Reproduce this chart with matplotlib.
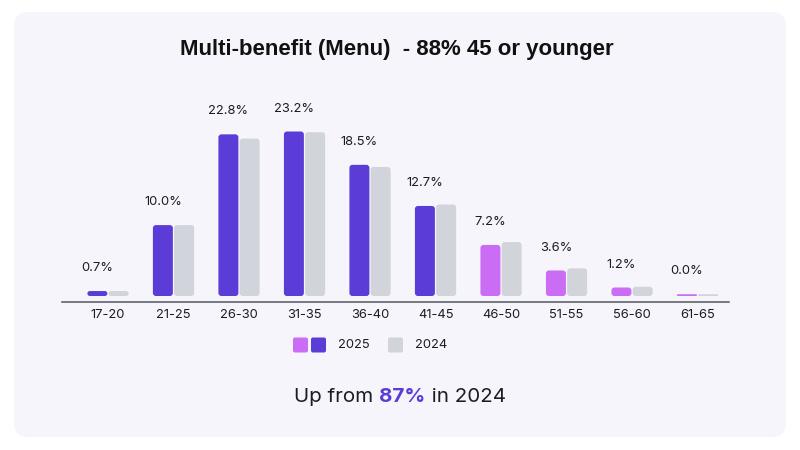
import numpy as np
import matplotlib
matplotlib.use('Agg')
import matplotlib.pyplot as plt
from matplotlib.patches import FancyBboxPatch

# data
ages = ['17-20', '21-25', '26-30', '31-35', '36-40',
        '41-45', '46-50', '51-55', '56-60', '61-65']
share_2025 = [0.7, 10.0, 22.8, 23.2, 18.5, 12.7, 7.2, 3.6, 1.2, 0.0]
share_2024 = [0.7, 10.0, 22.2, 23.1, 18.2, 12.9, 7.6, 3.9, 1.3, 0.1]
over_45 = [False] * 6 + [True] * 4

title = 'Multi-benefit (Menu)  - 88% 45 or younger'
footer = ['Up from ', '87%', ' in 2024']

DARK = '#5B3CD6'
LIGHT = '#CB6CF5'
GREY = '#D1D4DA'
PANEL = '#F6F5FC'
INK = '#1c1c22'

plt.rcParams['font.family'] = ['Inter', 'DejaVu Sans']

fig = plt.figure(figsize=(8, 4.5), dpi=100, facecolor='white')
px = fig.dpi_scale_trans  # inches, 100 px each


def pxbox(x0, y0, x1, y1, r, color):
    # box given in pixels measured from the top-left corner
    p = FancyBboxPatch((x0 / 100, (450 - y1) / 100), (x1 - x0) / 100, (y1 - y0) / 100,
                       boxstyle=f'round,pad=0,rounding_size={r / 100}',
                       transform=px, facecolor=color, edgecolor='none', zorder=0)
    fig.add_artist(p)


pxbox(14, 12, 786, 437, 14, PANEL)

# axes: x from 62 to 729 px, bottom spine at 302 px
ax = fig.add_axes([62 / 800, 1 - 302 / 450, 667 / 800, 183.25 / 450])
ax.set_facecolor('none')
ax.set_xlim(-0.702, 9.48)
ax.set_ylim(-0.846, 25)

x = np.arange(len(ages))
w = 0.305
off = 0.162
cols_2025 = [LIGHT if o else DARK for o in over_45]
b25 = ax.bar(x - off, np.maximum(share_2025, 0.25), w, color=cols_2025)
b24 = ax.bar(x + off, np.maximum(share_2024, 0.25), w, color=GREY)

# swap the plain rectangles for rounded ones
fig.canvas.draw()
xpp = 1 / 65.5   # data x per pixel
ypp = 1 / 7.09   # data y per pixel
for rect in list(b25) + list(b24):
    x0, y0 = rect.get_x(), rect.get_y()
    bw, bh = rect.get_width(), rect.get_height()
    r_px = min(3.0, bh / ypp / 2, bw / xpp / 2)
    fb = FancyBboxPatch((x0, y0), bw, bh,
                        boxstyle=f'round,pad=0,rounding_size={r_px * xpp}',
                        mutation_aspect=ypp / xpp,
                        facecolor=rect.get_facecolor(), edgecolor='none', zorder=2)
    ax.add_patch(fb)
    rect.set_visible(False)

for xi, v in zip(x, share_2025):
    ax.annotate(f'{v:.1f}%', (xi - off, max(v, 0.25)), xytext=(0, 16.5),
                textcoords='offset points', ha='center', va='center',
                fontsize=9.3, color=INK)

for s in ['top', 'right', 'left']:
    ax.spines[s].set_visible(False)
ax.spines['bottom'].set_color('#55555f')
ax.spines['bottom'].set_linewidth(1.1)
ax.set_yticks([])
ax.set_xticks(x)
ax.set_xticklabels(ages, fontsize=9.3, color=INK)
ax.tick_params(axis='x', length=0, pad=5)

# title
fig.text(397 / 800, 1 - 50 / 450, title, ha='center', va='center',
         fontsize=16, fontweight='bold', color='#111111',
         family=['Liberation Sans Narrow', 'Liberation Sans', 'DejaVu Sans'])

# legend
pxbox(293, 337.5, 308, 352.5, 2, LIGHT)
pxbox(311, 337.5, 326, 352.5, 2, DARK)
pxbox(388, 337.5, 403, 352.5, 2, GREY)
fig.text(338 / 800, 1 - 345 / 450, '2025', ha='left', va='center', fontsize=9.3, color=INK)
fig.text(415 / 800, 1 - 345 / 450, '2024', ha='left', va='center', fontsize=9.3, color=INK)

# footer with the bold purple number in the middle
renderer = fig.canvas.get_renderer()
styles = [dict(color=INK), dict(color=DARK, fontweight='bold'), dict(color=INK)]
parts = []
for t, st in zip(footer, styles):
    parts.append(fig.text(0, 1 - 397 / 450, t, ha='left', va='center', fontsize=14.8, **st))
widths = [p.get_window_extent(renderer).width for p in parts]
start = 400 - sum(widths) / 2
for p, wd in zip(parts, widths):
    p.set_x(start / 800)
    start += wd

fig.savefig('out.png', dpi=100, facecolor='white')
